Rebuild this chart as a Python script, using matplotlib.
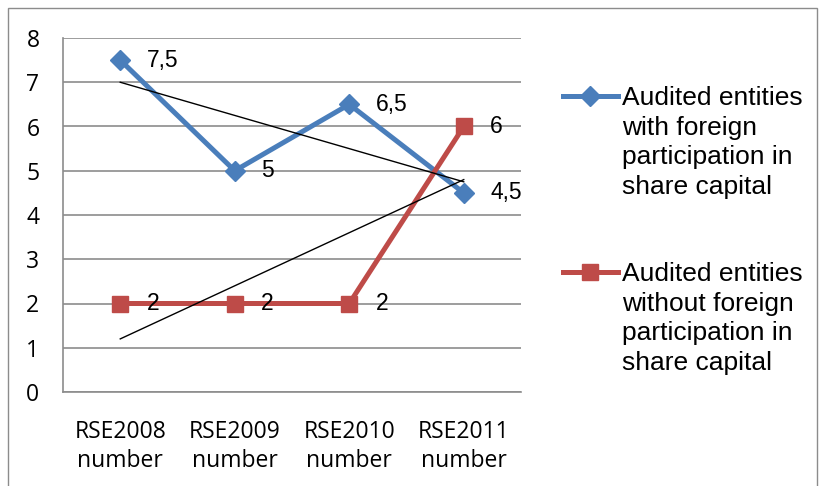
import numpy as np
import matplotlib.pyplot as plt
from matplotlib.lines import Line2D
from matplotlib.patches import Rectangle

# chart data
categories = ['RSE2008\nnumber', 'RSE2009\nnumber', 'RSE2010\nnumber', 'RSE2011\nnumber']
with_foreign = [7.5, 5, 6.5, 4.5]
without_foreign = [2, 2, 2, 6]
with_labels = ['7,5', '5', '6,5', '4,5']
without_labels = ['2', '2', '2', '6']
series_names = ['Audited entities\nwith foreign\nparticipation in\nshare capital',
                'Audited entities\nwithout foreign\nparticipation in\nshare capital']

blue = '#4a7ebb'
red = '#be4b48'

fig = plt.figure(figsize=(8.19, 4.86), dpi=100)
ax = fig.add_axes([63/819, 1 - 392/486, (521 - 63)/819, (392 - 38)/486])

x = np.arange(len(categories))

ax.plot(x, with_foreign, color=blue, lw=3.6, marker='D', ms=10, zorder=3)
ax.plot(x, without_foreign, color=red, lw=3.6, marker='s', ms=12, zorder=3)

# linear trend lines
for vals in (with_foreign, without_foreign):
    k, b = np.polyfit(x, vals, 1)
    ax.plot(x, k * x + b, color='black', lw=1, zorder=4)

for xi, v, t in zip(x, with_foreign, with_labels):
    ax.annotate(t, (xi, v), xytext=(19, 0), textcoords='offset points',
                va='center', ha='left', fontsize=16.5, family='Liberation Sans')
for xi, v, t in zip(x, without_foreign, without_labels):
    ax.annotate(t, (xi, v), xytext=(19, 0), textcoords='offset points',
                va='center', ha='left', fontsize=16.5, family='Liberation Sans')

ax.set_xlim(-0.5, 3.5)
ax.set_ylim(0, 8)
ax.set_yticks(range(0, 9))
ax.set_xticks(x)
ax.set_xticklabels(categories, fontsize=16.5, family='Open Sans', linespacing=1.3)
ax.tick_params(axis='y', length=0, pad=17, labelsize=16.5)
ax.tick_params(axis='x', length=0, pad=20)
for lbl in ax.get_yticklabels():
    lbl.set_family('Open Sans')
ax.grid(axis='y', color='#8c8c8c', lw=1.2)
ax.set_axisbelow(True)
for s in ['top', 'right']:
    ax.spines[s].set_visible(False)
for s in ['left', 'bottom']:
    ax.spines[s].set_color('#8c8c8c')
    ax.spines[s].set_linewidth(1.2)

# legend drawn by hand so the marker sits on the first text line
legend_y = [1 - 96/486, 1 - 272/486]
for y, name, c, m, ms in zip(legend_y, series_names, [blue, red], ['D', 's'], [10, 12]):
    fig.add_artist(Line2D([563/819, 618/819], [y, y], color=c, lw=3.6,
                          transform=fig.transFigure))
    fig.add_artist(Line2D([590/819], [y], color=c, marker=m, ms=ms,
                          transform=fig.transFigure))
    fig.text(622/819, y + 10/486, name, va='top', ha='left', fontsize=19,
             family='Liberation Sans', linespacing=1.29)

# outer chart border
fig.add_artist(Rectangle((8/819, -0.05), 809/819, 1.05 - 8/486, fill=False,
                         ec='#8c8c8c', lw=1, transform=fig.transFigure))

fig.savefig('out.png', dpi=100)
